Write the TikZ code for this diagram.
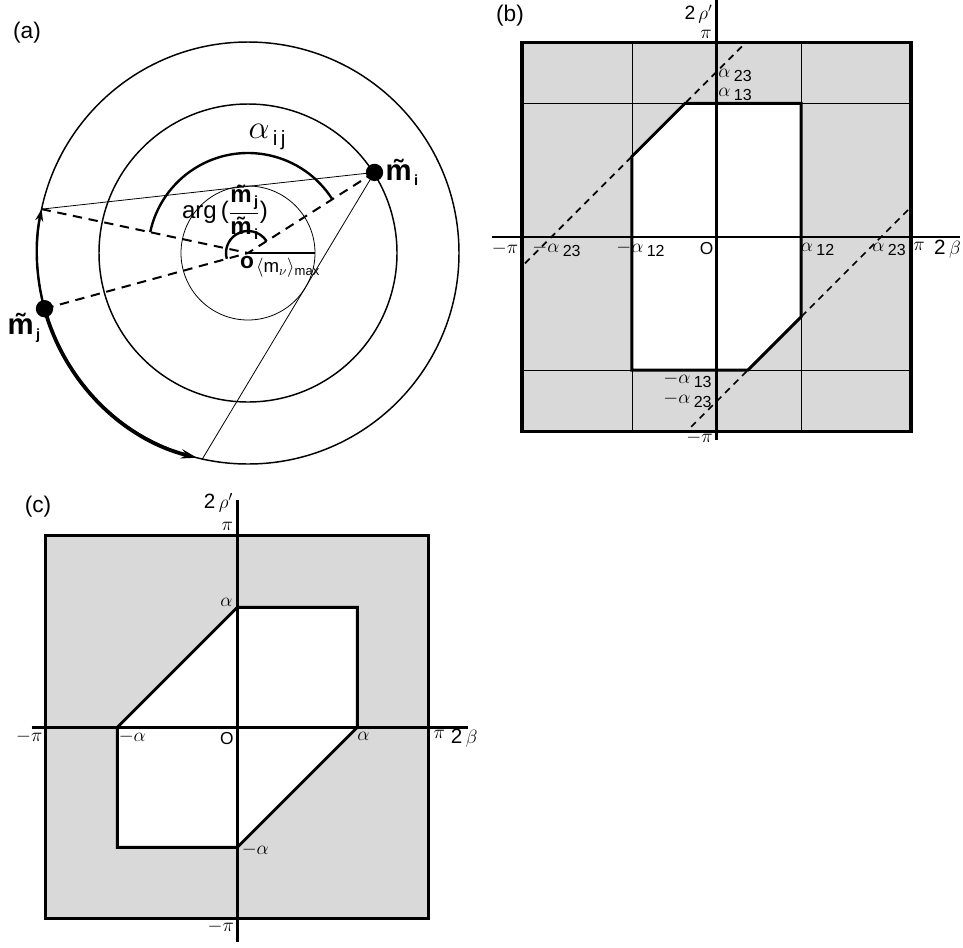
\documentclass[tikz,border=0pt]{standalone}
\usepackage{fontspec}
\setmainfont{Liberation Sans}
\usepackage{amsmath}
\usetikzlibrary{arrows.meta}
\newcommand{\mtil}[1]{\~{m}\raisebox{-0.35ex}{\fontsize{11}{11}\selectfont\,#1}}
\newcommand{\asub}[1]{$\alpha$\raisebox{-0.4ex}{\,\fontsize{12}{12}\selectfont#1}}

\begin{document}
\begin{tikzpicture}[
    x=0.75pt, y=-0.75pt,
    every node/.style={inner sep=0.5pt, font=\fontsize{15.5}{17}\selectfont},
    tag/.style={font=\fontsize{17}{19}\selectfont},
    ring/.style={line width=1.1pt},
    thinring/.style={line width=0.6pt},
    chord/.style={line width=0.6pt},
    ray/.style={line width=1.5pt, dash pattern=on 7pt off 5pt},
    marc/.style={line width=1.8pt},
    dot/.style={circle, fill=black, inner sep=0pt, minimum size=13pt},
    shade/.style={fill=black!15},
    frame/.style={line width=2.4pt},
    gridln/.style={line width=0.6pt},
    bound/.style={fill=white, line width=2.2pt},
    axis/.style={line width=1.8pt},
    cut/.style={line width=1.3pt, dash pattern=on 5pt off 4pt},
    orig/.style={font=\fontsize{13}{15}\selectfont}
  ]
  \useasboundingbox (0,0) rectangle (963,947);

  % (a) the circles
  \node[tag] (tag-a) at (27,33) {(a)};
  \begin{scope}[shift={(248,253)}, yscale=-1]
    \coordinate (o) at (0,0);
    \coordinate (mi) at (32.5:150);
    \coordinate (mj) at (195.3:211);
    \coordinate (pj) at (168:211);
    \coordinate (qj) at (257.5:211);
    \draw[ring] (o) circle (211);
    \draw[ring] (o) circle (149);
    \draw[thinring] (o) circle (67);
    \draw[chord] (pj) -- (mi) -- (qj);
    \draw[ray] (mi) -- (o);
    \draw[ray] (pj) -- (o);
    \draw[ray] (mj) -- (o);
    \draw[marc] (o) -- (0:67);
    \draw[marc] (32.5:100) arc[start angle=32.5, end angle=168, radius=100];
    \draw[marc] (32.5:22) arc[start angle=32.5, end angle=195.3, radius=22];
    \draw[line width=1.8pt, -{Stealth[length=9pt, width=6pt]}]
      (mj) arc[start angle=195.3, end angle=168, radius=211];
    \draw[line width=2.8pt, -{Stealth[length=12pt, width=7pt]}]
      (mj) arc[start angle=195.3, end angle=256, radius=211];
    \node[dot] (dot-i) at (mi) {};
    \node[dot] (dot-j) at (mj) {};
    \node[anchor=west, font=\fontsize{22}{24}\selectfont\bfseries] (lab-i) at ([xshift=1pt]dot-i.east) {\mtil{i}};
    \node[font=\fontsize{22}{24}\selectfont\bfseries] (lab-j) at (-224,-75) {\mtil{j}};
    \node (lab-aij) at (19,116) {{\fontsize{28}{28}\selectfont$\alpha$}\raisebox{-5pt}{\,i\,j}};
    \node[font=\fontsize{18}{20}\selectfont] (lab-arg) at (-23,41)
      {arg\,($\dfrac{\text{\bfseries\mtil{j}}}{\text{\bfseries\mtil{i}}}$)};
    \node[font=\fontsize{17}{17}\selectfont\bfseries] (lab-o) at (-1,-10) {o};
    \node[font=\fontsize{14}{14}\selectfont] (lab-max) at (40,-15) {$\langle\text{m}_{\nu}\rangle_{\text{max}}$};
  \end{scope}

  % (b) three angles
  \node[tag] (tag-b) at (510,16) {(b)};
  \begin{scope}[shift={(716.5,236.7)}, yscale=-1]
    \fill[shade] (-194.5,-194.5) rectangle (194.5,194.5);
    \foreach \u in {-84.6,84.6}
      \draw[gridln] (\u,-194.5) -- (\u,194.5);
    \foreach \v in {-133.4,133.4}
      \draw[gridln] (-194.5,\v) -- (194.5,\v);
    \filldraw[bound] (-84.6,80.2) -- (-31.4,133.4) -- (84.6,133.4) -- (84.6,-80.2)
      -- (31.4,-133.4) -- (-84.6,-133.4) -- cycle;
    \draw[axis] (-224.5,0) -- (243.5,0);
    \draw[axis] (0,-203.3) -- (0,236.7);
    \draw[frame] (-194.5,-194.5) rectangle (194.5,194.5);
    \draw[cut] (-191.5,-26.7) -- (28.5,193.3);
    \draw[cut] (191.5,26.7) -- (-28.5,-193.3);
    \node[font=\fontsize{14.5}{16}\selectfont] (b-rho) at (-18,222.5) {2\,$\rho'$};
    \node (b-pi) at (-10.5,202.5) {$\pi$};
    \node[anchor=west] (b-a23) at (1,161) {\asub{23}};
    \node[anchor=west] (b-a13) at (1,142) {\asub{13}};
    \node (b-mpi) at (-211.5,-12) {$-\pi$};
    \node (b-ma23) at (-160,-12.5) {$-$\asub{23}};
    \node (b-ma12) at (-76,-12.5) {$-$\asub{12}};
    \node[orig] (b-o) at (-10,-12) {O};
    \node (b-pa12) at (101,-12.5) {\asub{12}};
    \node (b-pa23) at (172.5,-12.5) {\asub{23}};
    \node (b-ppi) at (202.5,-9.5) {$\pi$};
    \node (b-beta) at (231,-12) {2\,$\beta$};
    \node (b-ma13y) at (-29,-143) {$-$\asub{13}};
    \node (b-ma23y) at (-29,-163) {$-$\asub{23}};
    \node (b-mpiy) at (-17,-201) {$-\pi$};
  \end{scope}

  % (c) equal angles
  \node[tag] (tag-c) at (38,507) {(c)};
  \begin{scope}[shift={(237.3,727.3)}, yscale=-1]
    \fill[shade] (-191.5,-191.5) rectangle (191.5,191.5);
    \filldraw[bound] (0,120) -- (120,120) -- (120,0) -- (0,-120)
      -- (-120,-120) -- (-120,0) -- cycle;
    \draw[axis] (-205.6,0) -- (231,0);
    \draw[axis] (0,-214.4) -- (0,227.3);
    \draw[frame] (-191.5,-191.5) rectangle (191.5,191.5);
    \node (c-rho) at (-18.8,224.3) {2\,$\rho'$};
    \node (c-pi) at (-10,201) {$\pi$};
    \node (c-a) at (-11,124.7) {$\alpha$};
    \node (c-mpi) at (-208,-9) {$-\pi$};
    \node (c-ma) at (-105,-9) {$-\alpha$};
    \node[orig] (c-o) at (-10.5,-11) {O};
    \node (c-pa) at (126,-9) {$\alpha$};
    \node (c-ppi) at (202,-7.5) {$\pi$};
    \node (c-beta) at (227,-11) {2\,$\beta$};
    \node (c-may) at (18,-122) {$-\alpha$};
    \node (c-mpiy) at (-16.5,-199.4) {$-\pi$};
  \end{scope}
\end{tikzpicture}
\end{document}
